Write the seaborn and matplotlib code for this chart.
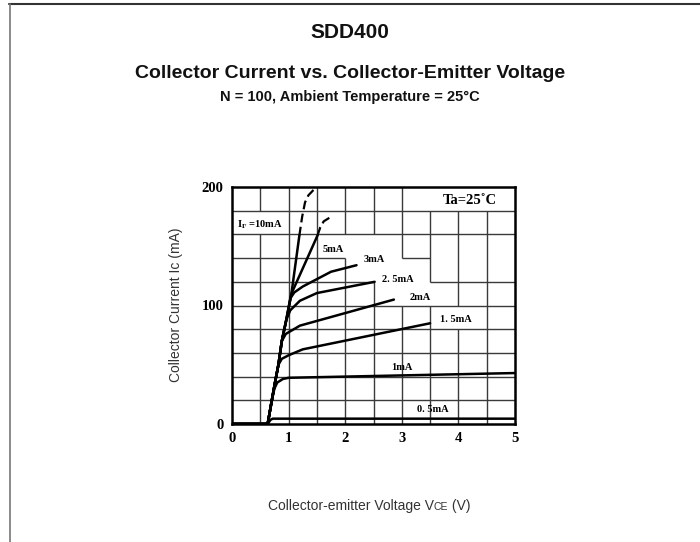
import numpy as np
import pandas as pd
import seaborn as sns
import matplotlib.pyplot as plt
from matplotlib.lines import Line2D

# --- data (Vce in V, Ic in mA) ---
vce_05 = [0.0, 0.63, 0.68, 0.72, 5.0]
ic_05 = [0.0, 0.0, 3.5, 4.5, 4.5]

vce_1 = [0.0, 0.63, 0.70, 0.75, 0.80, 0.90, 1.0, 2.0, 3.0, 4.0, 5.0]
ic_1 = [0.0, 0.0, 19, 30, 35, 38, 39, 40, 41, 42, 43]

vce_15 = [0.0, 0.63, 0.70, 0.76, 0.82, 0.88, 1.0, 1.25, 3.5]
ic_15 = [0.0, 0.0, 19, 35, 50, 55, 58, 63, 85]

vce_2 = [0.0, 0.63, 0.70, 0.76, 0.82, 0.88, 0.95, 1.2, 2.86]
ic_2 = [0.0, 0.0, 19, 35, 50, 70, 76, 83, 105]

vce_25 = [0.0, 0.63, 0.70, 0.76, 0.82, 0.88, 0.96, 1.03, 1.2, 1.5, 2.52]
ic_25 = [0.0, 0.0, 19, 35, 50, 70, 88, 96, 104, 110.5, 120]

vce_3 = [0.0, 0.63, 0.70, 0.76, 0.82, 0.88, 0.96, 1.03, 1.1, 1.25, 1.75, 2.2]
ic_3 = [0.0, 0.0, 19, 35, 50, 70, 88, 106, 111, 116, 128.5, 134]

vce_5 = [0.0, 0.63, 0.70, 0.76, 0.82, 0.88, 0.96, 1.05, 1.51]
ic_5 = [0.0, 0.0, 19, 35, 50, 70, 88, 110, 159]
vce_5_dash = [1.51, 1.56, 1.62, 1.72]
ic_5_dash = [159, 166, 171, 174]

vce_10 = [0.0, 0.63, 0.70, 0.76, 0.82, 0.88, 0.96, 1.05, 1.19]
ic_10 = [0.0, 0.0, 19, 35, 50, 70, 88, 110, 159]
vce_10_dash = [1.19, 1.24, 1.29, 1.35, 1.43, 1.51]
ic_10_dash = [159, 175, 187, 193, 197, 200]

curve_labels = ["0. 5mA", "1mA", "1. 5mA", "2mA", "2. 5mA", "3mA", "5mA"]
label_x = [3.27, 2.81, 3.68, 3.14, 2.65, 2.33, 1.60]
label_y = [12, 48, 88, 106.5, 121.7, 138.5, 147]

x_ticks = [0, 1, 2, 3, 4, 5]
y_ticks = [0, 100, 200]

sns.set_theme(style="white")
serif = "Liberation Serif"
sans = "Liberation Sans"

fig = plt.figure(figsize=(7, 5.42), dpi=100)
ax = fig.add_axes([232 / 700, 1 - 424 / 542, 283 / 700, 237 / 542])

# irregular datasheet grid (gaps where the labels sit)
grid_v = [(0.5, 0, 160), (0.5, 180, 200), (1.0, 0, 200), (1.5, 0, 200),
          (2.0, 0, 140), (2.0, 160, 200), (2.5, 0, 120), (2.5, 160, 200),
          (3.0, 0, 100), (3.0, 140, 200), (3.5, 0, 100), (3.5, 120, 180),
          (4.0, 0, 80), (4.0, 100, 180), (4.5, 0, 180)]
grid_h = [(20, 0, 5), (40, 0, 5), (60, 0, 5), (80, 0, 5), (100, 0, 5),
          (120, 0, 2.5), (120, 3.5, 5), (140, 0, 2), (140, 3, 3.5),
          (160, 0, 5), (180, 0, 5)]
for x, y0, y1 in grid_v:
    ax.vlines(x, y0, y1, color="#3a3a3a", lw=1.0, zorder=1)
for y, x0, x1 in grid_h:
    ax.hlines(y, x0, x1, color="#3a3a3a", lw=1.0, zorder=1)

solid = [(vce_05, ic_05), (vce_1, ic_1), (vce_15, ic_15), (vce_2, ic_2),
         (vce_25, ic_25), (vce_3, ic_3), (vce_5, ic_5), (vce_10, ic_10)]
for xs, ys in solid:
    d = pd.DataFrame({"vce": xs, "ic": ys})
    sns.lineplot(data=d, x="vce", y="ic", sort=False, estimator=None,
                 color="black", lw=1.8, ax=ax, zorder=3)
for xs, ys in [(vce_5_dash, ic_5_dash), (vce_10_dash, ic_10_dash)]:
    d = pd.DataFrame({"vce": xs, "ic": ys})
    sns.lineplot(data=d, x="vce", y="ic", sort=False, estimator=None,
                 color="black", lw=1.6, ax=ax, zorder=3, dashes=False,
                 linestyle=(0, (4, 2)))

for txt, lx, ly in zip(curve_labels, label_x, label_y):
    ax.text(lx, ly, txt, family=serif, fontweight="bold", fontsize=7.5,
            va="center", ha="left", color="black")
ax.text(0.08, 168, r"I$_\mathregular{F}$ =10mA", family=serif, fontweight="bold",
        fontsize=7.5, va="center", ha="left", color="black")
ax.text(3.72, 188.5, "Ta=25˚C", family=serif, fontweight="bold", fontsize=10.5,
        va="center", ha="left", color="black")

ax.set_xlim(0, 5)
ax.set_ylim(0, 200)
ax.set_xticks(x_ticks)
ax.set_yticks(y_ticks)
ax.set_xticklabels([str(t) for t in x_ticks], family=serif, fontweight="bold", fontsize=10.5)
ax.set_yticklabels([str(t) for t in y_ticks], family=serif, fontweight="bold", fontsize=10.5)
ax.tick_params(axis="x", length=0, pad=6, colors="black")
ax.tick_params(axis="y", length=0, pad=6, colors="black")
ax.set_xlabel("")
ax.set_ylabel("")
for s in ax.spines.values():
    s.set_color("black")
    s.set_linewidth(1.8)
    s.set_zorder(4)

# titles
fig.text(0.5, 1 - 33 / 542, "SDD400", family=sans, fontweight="bold",
         fontsize=15, ha="center", va="center", color="#111111")
fig.text(0.5, 1 - 73 / 542, "Collector Current vs. Collector-Emitter Voltage",
         family=sans, fontweight="bold", fontsize=14, ha="center", va="center",
         color="#111111")
fig.text(0.5, 1 - 97 / 542, "N = 100, Ambient Temperature = 25°C", family=sans,
         fontweight="bold", fontsize=10.5, ha="center", va="center", color="#111111")

# axis titles
fig.text(176 / 700, 1 - 305 / 542, "Collector Current Ic (mA)", family=sans,
         fontsize=10, rotation=90, ha="center", va="center", color="#333333")
base_y = 1 - 510 / 542
t1 = fig.text(268 / 700, base_y, "Collector-emitter Voltage V", family=sans,
              fontsize=10, ha="left", va="baseline", color="#333333")
fig.canvas.draw()
x1 = t1.get_window_extent().x1
t2 = fig.text(x1 / 700, base_y, "CE", family=sans, fontsize=7.5,
              ha="left", va="baseline", color="#333333")
fig.canvas.draw()
x2 = t2.get_window_extent().x1
fig.text(x2 / 700, base_y, " (V)", family=sans, fontsize=10,
         ha="left", va="baseline", color="#333333")

# page frame
fig.add_artist(Line2D([9 / 700, 1], [1 - 3.5 / 542, 1 - 3.5 / 542],
                      transform=fig.transFigure, color="#333333", lw=1.5))
fig.add_artist(Line2D([9.5 / 700, 9.5 / 700], [0, 1 - 3.5 / 542],
                      transform=fig.transFigure, color="#777777", lw=1.2))

fig.savefig("out.png", dpi=100)
